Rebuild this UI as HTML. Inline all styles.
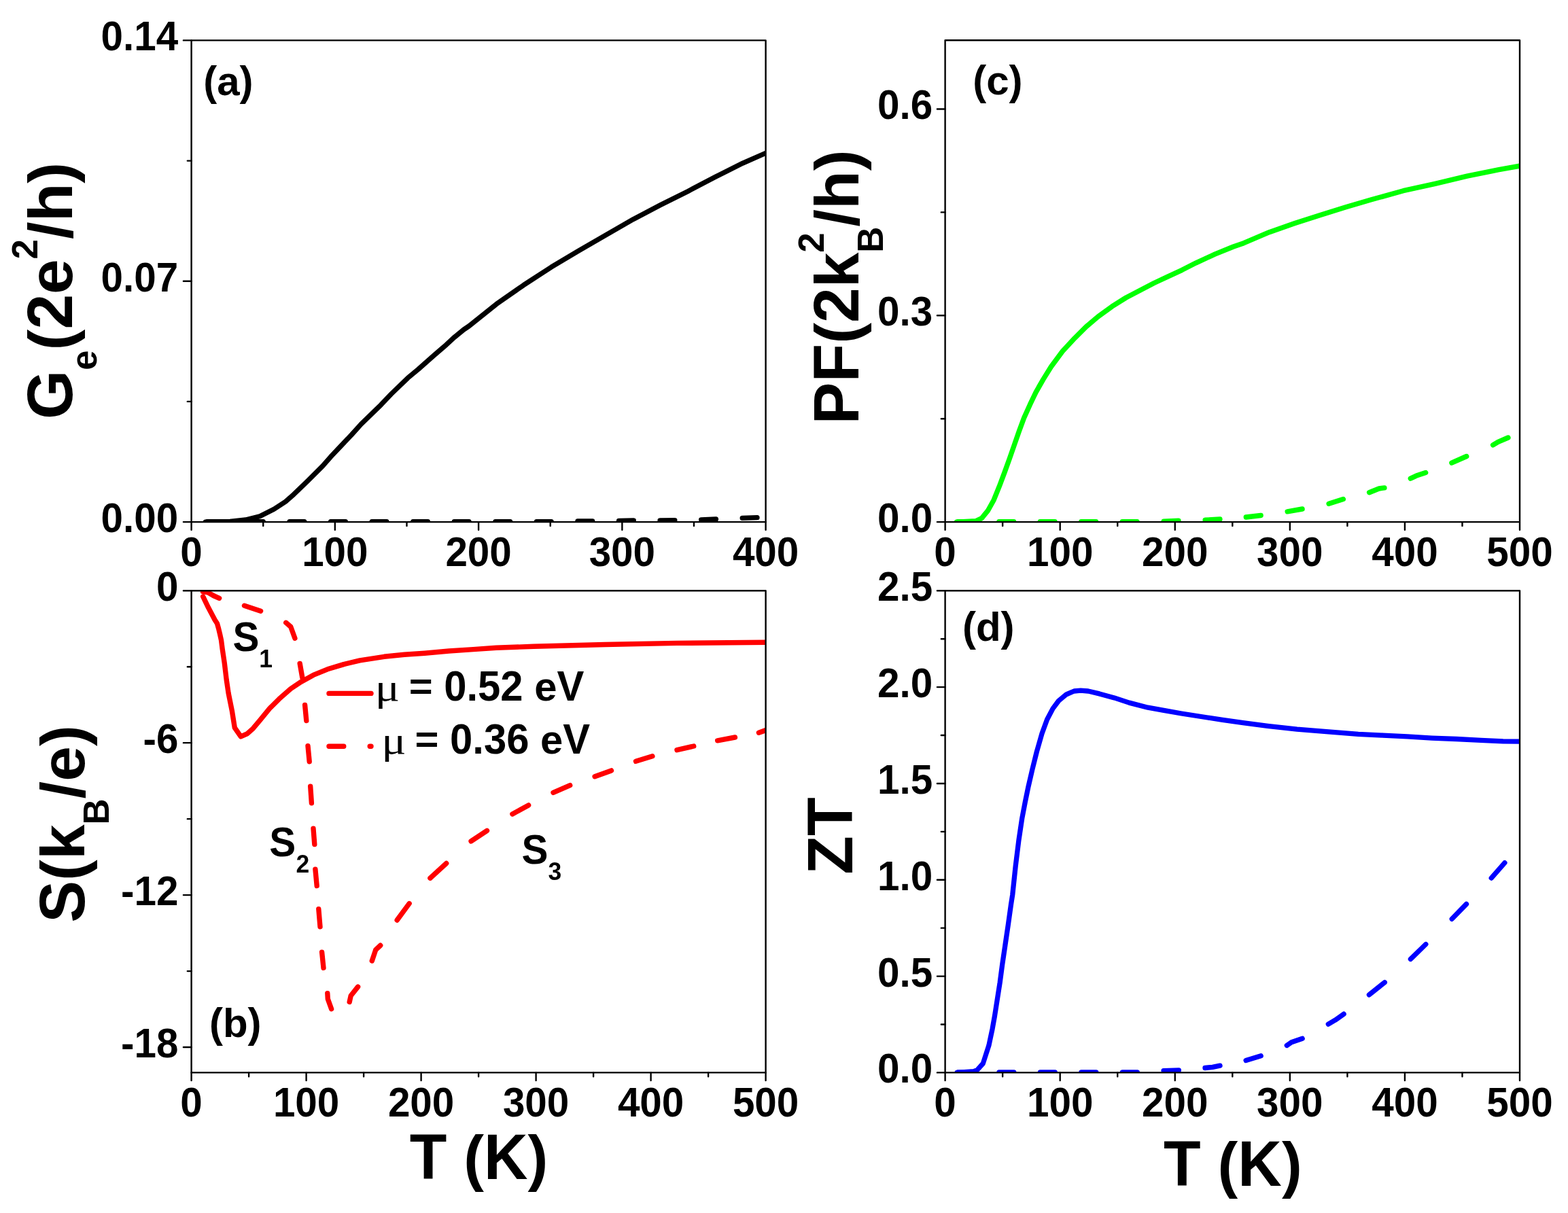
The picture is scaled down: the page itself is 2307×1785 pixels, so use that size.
<!DOCTYPE html>
<html><head><meta charset="utf-8"><title>Thermoelectric figure</title><style>html,body{margin:0;padding:0;background:#fff;overflow:hidden}svg{display:block}</style></head><body>
<svg width="2307" height="1785" viewBox="0 0 2307 1785">
<rect width="2307" height="1785" fill="#fff"/>
<defs><clipPath id="ca"><rect x="281.6" y="59.4" width="845" height="708.7"/></clipPath><clipPath id="cb"><rect x="281.6" y="869.2" width="845" height="709.2"/></clipPath><clipPath id="cc"><rect x="1390.6" y="59.2" width="845.4" height="708.9"/></clipPath><clipPath id="cd"><rect x="1390.6" y="869.3" width="845.4" height="709.1"/></clipPath></defs>
<g clip-path="url(#ca)">
<path d="M304.9 767.6 L326.7 767.6M365.46 767.6 L387.26 767.6M426.02 767.6 L447.82 767.6M486.58 767.6 L508.38 767.6M547.14 767.6 L568.94 767.6M607.7 767.6 L629.5 767.6M668.26 767.6 L690.06 767.6M728.82 767.6 L750.62 767.6M789.38 767.6 L811.18 767.6M849.94 767 L871.74 766.8M910.5 766.3 L932.3 766M971.06 765.9 L992.86 765.6M1031.62 764.9 L1053.42 764M1092.18 762.4 L1113.98 761.7" fill="none" stroke="#000" stroke-width="7.3" stroke-linecap="round" stroke-linejoin="round"/>
<path d="M302.3 768.1 L338.4 767.4 L361.4 765 L382.3 759.7 L403.1 749.2 L420 738.2 L430 729.6 L452.3 708.2 L474.6 685.9 L486.7 672.1 L517.5 639.5 L531.3 624.1 L560.4 595.8 L575.9 579.5 L599.9 556.3 L615.3 543.5 L637.6 523.7 L656.5 507.4 L668.5 496.3 L682.2 485.1 L690 479.9 L730.3 447.6 L770.6 419.4 L810.9 393.2 L851.2 369.1 L891.4 345.9 L931.7 322.7 L972 301.6 L1012.3 281.4 L1052.6 260.3 L1092.9 240.1 L1126.6 225.3" fill="none" stroke="#000" stroke-width="7.3" stroke-linecap="round" stroke-linejoin="round" />
</g>
<g clip-path="url(#cb)">
<path d="M298.7 877.8 L306.5 894.1 L316 912.1 L319.5 917.5 L321.6 925 L323.6 933.4 L325.5 942 L327.2 955.2 L330.2 975.3 L333.2 1000.4 L336.2 1020.6 L341.3 1045.7 L345.3 1070.9 L354.3 1083.9 L363.4 1079.9 L372.4 1071.9 L382.5 1059.8 L396.6 1042.7 L410.7 1028.6 L427.8 1013.5 L442.9 1003.4 L461 993.4 L481.9 984.8 L505.7 977.6 L529.5 971.9 L565.2 966.3 L595 963.3 L624.8 961.2 L660.5 958 L696.2 955.6 L730 953.2 L785 951.3 L890 948.5 L996 946.4 L1126.6 945.3" fill="none" stroke="#f00" stroke-width="7.4" stroke-linecap="round" stroke-linejoin="round" />
<path d="M298.5 870.5 L306 871.8 L314 876.5 L322.6 880.3M359.5 891.2 L383.6 899.2M420.8 916.3 L427.8 922.4 L433.9 939.3M441.2 976.5 L444.9 997.5M448.6 1037.4 L450.8 1060.5M453 1097.7 L455.2 1120.7M456.7 1157.3 L458.4 1181.7M461 1219.3 L462.8 1242.5M463.9 1279.2 L466.2 1303.6M468.8 1337.7 L471 1363.7M473.6 1401.1 L476 1424.3M481.8 1461.6 L482.3 1469.9 L487.6 1484.8M514.2 1474.4 L516.2 1465.3 L526.6 1452.1M547.3 1414 L552.7 1397.8 L559.7 1391.2M584.2 1354 L602.1 1329.6M632.9 1292.2 L656.7 1270.4M693.1 1237.9 L716.5 1222.3M753.9 1197.9 L777.6 1184.9M814 1166.4 L838.7 1155.7M875.1 1142.7 L899.5 1133.9M935.5 1120.3 L959.9 1112.8M996 1103.7 L1020.7 1098M1055.7 1089.8 L1081.4 1085M1116.4 1078.3 L1126.6 1074.6" fill="none" stroke="#f00" stroke-width="7.4" stroke-linecap="round" stroke-linejoin="round"/>
</g>
<g clip-path="url(#cc)">
<path d="M1409.4 767.8 L1431.2 767.8M1469.85 767.8 L1491.65 767.8M1530.3 767.8 L1552.1 767.8M1590.75 767.8 L1612.55 767.8M1651.2 767.8 L1673 767.8M1712.2 767.2 L1734 766.2M1773.1 765.3 L1794.9 764M1833.3 761 L1855.1 758.5M1894.2 752.8 L1916 749M1955.1 741.3 L1976.3 734.5M2014.6 724.7 L2028.9 719 L2036.9 717.9M2075.3 704.1 L2083.9 700.1 L2097.6 695.5M2135.9 681.2 L2157.7 671.5M2196.6 654.9 L2204.1 650.3 L2218.9 644" fill="none" stroke="#0f0" stroke-width="7.4" stroke-linecap="round" stroke-linejoin="round"/>
<path d="M1407.5 768.1 L1435.5 766.8 L1444.4 762.6 L1453.3 751.7 L1462.2 735.7 L1470.1 716.2 L1478.1 694.9 L1485.2 675.3 L1492.3 654.9 L1499.4 634.5 L1506.6 615 L1515.4 595.4 L1524.3 576.8 L1535 558.1 L1546.4 539.8 L1563.4 516.8 L1581.2 497.6 L1597.7 481.1 L1615.5 466 L1636.2 450.9 L1656.8 438 L1677.4 427.2 L1698 416.5 L1718.6 406.9 L1739.2 397.3 L1759.8 386.8 L1787.3 374.2 L1814.7 363 L1830 357.7 L1867.5 341.7 L1905.1 328.6 L1942.6 316.4 L1980.2 304.7 L2017.7 293.8 L2064.7 280.7 L2111.6 270.4 L2158.5 259.1 L2205.4 249.7 L2236 244.2" fill="none" stroke="#0f0" stroke-width="7.4" stroke-linecap="round" stroke-linejoin="round" />
</g>
<g clip-path="url(#cd)">
<path d="M1409.4 1578 L1431.3 1578M1469.9 1578 L1491.8 1578M1530.4 1578 L1552.3 1578M1590.9 1578 L1612.8 1578M1651.4 1578 L1673.3 1578M1712 1575.7 L1734.4 1574.8M1773 1571.5 L1784 1570.3 L1795 1568.1M1833.1 1560.4 L1855.2 1553.7M1893.3 1538.4 L1900.1 1533.7 L1916.2 1528.3M1954.3 1507.1 L1964.4 1501.2 L1977.1 1492.2M2014.4 1463.9 L2037.3 1445.6M2075.4 1411.4 L2097.8 1389.5M2136.2 1352.3 L2157.5 1330.4M2194.2 1292.1 L2213.9 1269.7" fill="none" stroke="#00f" stroke-width="7.3" stroke-linecap="round" stroke-linejoin="round"/>
<path d="M1408.1 1578.4 L1432.6 1576.6 L1437.7 1574.6 L1446.3 1565 L1454.9 1538.4 L1460 1514.4 L1463.4 1495.5 L1466.9 1473.2 L1471.2 1445.8 L1474.6 1420.1 L1478.9 1390.9 L1483.2 1361.7 L1487.5 1330.9 L1489.7 1317 L1494.2 1274.5 L1498.9 1236.6 L1503.7 1204.4 L1508.4 1179.8 L1513.1 1157.1 L1518.8 1132.5 L1525.4 1106 L1533 1079.5 L1540.6 1058.7 L1549.1 1042.6 L1557.6 1031.2 L1569 1021.8 L1580.3 1017 L1590 1016.2 L1601 1017 L1617.5 1020.9 L1639.5 1026.9 L1661.4 1034.1 L1688.9 1041.2 L1710.9 1045.1 L1738.4 1050 L1776.8 1056 L1798.8 1059.3 L1828.9 1063.7 L1865 1068.4 L1908.3 1073.1 L1951.6 1076.7 L1998.5 1080.3 L2034.6 1082.1 L2070.7 1083.9 L2106.8 1086.1 L2142.8 1087.5 L2178.9 1089.3 L2211.4 1090.8 L2236 1091.2" fill="none" stroke="#00f" stroke-width="7.3" stroke-linecap="round" stroke-linejoin="round" />
</g>
<rect x="281.6" y="59.4" width="845" height="708.7" fill="none" stroke="#000" stroke-width="2.4" stroke-linejoin="round"/>
<path d="M281.6 768.1V779.8M492.85 768.1V779.8M704.1 768.1V779.8M915.35 768.1V779.8M1126.6 768.1V779.8M387.23 768.1V773.9M598.47 768.1V773.9M809.72 768.1V773.9M1020.97 768.1V773.9M281.6 768.1H269.9M281.6 413.75H269.9M281.6 59.4H269.9M281.6 590.92H275.8M281.6 236.58H275.8" stroke="#000" stroke-width="2.4" stroke-linecap="round" fill="none"/>
<text transform="translate(265.36,832.7) scale(1.0,1.055)" font-family="'Liberation Sans', Arial, sans-serif" font-weight="bold" font-size="58.4">0</text>
<text transform="translate(444.13,832.7) scale(1.0,1.055)" font-family="'Liberation Sans', Arial, sans-serif" font-weight="bold" font-size="58.4">100</text>
<text transform="translate(655.38,832.7) scale(1.0,1.055)" font-family="'Liberation Sans', Arial, sans-serif" font-weight="bold" font-size="58.4">200</text>
<text transform="translate(866.63,832.7) scale(1.0,1.055)" font-family="'Liberation Sans', Arial, sans-serif" font-weight="bold" font-size="58.4">300</text>
<text transform="translate(1077.88,832.7) scale(1.0,1.055)" font-family="'Liberation Sans', Arial, sans-serif" font-weight="bold" font-size="58.4">400</text>
<text transform="translate(148.54,783.1) scale(1.0,1.055)" font-family="'Liberation Sans', Arial, sans-serif" font-weight="bold" font-size="58.4">0.00</text>
<text transform="translate(148.54,428.75) scale(1.0,1.055)" font-family="'Liberation Sans', Arial, sans-serif" font-weight="bold" font-size="58.4">0.07</text>
<text transform="translate(148.54,74.4) scale(1.0,1.055)" font-family="'Liberation Sans', Arial, sans-serif" font-weight="bold" font-size="58.4">0.14</text>
<rect x="281.6" y="869.2" width="845" height="709.2" fill="none" stroke="#000" stroke-width="2.4" stroke-linejoin="round"/>
<path d="M281.6 1578.4V1590.1M450.6 1578.4V1590.1M619.6 1578.4V1590.1M788.6 1578.4V1590.1M957.6 1578.4V1590.1M1126.6 1578.4V1590.1M366.1 1578.4V1584.2M535.1 1578.4V1584.2M704.1 1578.4V1584.2M873.1 1578.4V1584.2M1042.1 1578.4V1584.2M281.6 869.2H269.9M281.6 1093.16H269.9M281.6 1317.12H269.9M281.6 1541.07H269.9M281.6 981.18H275.8M281.6 1205.14H275.8M281.6 1429.09H275.8" stroke="#000" stroke-width="2.4" stroke-linecap="round" fill="none"/>
<text transform="translate(265.36,1643) scale(1.0,1.055)" font-family="'Liberation Sans', Arial, sans-serif" font-weight="bold" font-size="58.4">0</text>
<text transform="translate(401.88,1643) scale(1.0,1.055)" font-family="'Liberation Sans', Arial, sans-serif" font-weight="bold" font-size="58.4">100</text>
<text transform="translate(570.88,1643) scale(1.0,1.055)" font-family="'Liberation Sans', Arial, sans-serif" font-weight="bold" font-size="58.4">200</text>
<text transform="translate(739.88,1643) scale(1.0,1.055)" font-family="'Liberation Sans', Arial, sans-serif" font-weight="bold" font-size="58.4">300</text>
<text transform="translate(908.88,1643) scale(1.0,1.055)" font-family="'Liberation Sans', Arial, sans-serif" font-weight="bold" font-size="58.4">400</text>
<text transform="translate(1077.88,1643) scale(1.0,1.055)" font-family="'Liberation Sans', Arial, sans-serif" font-weight="bold" font-size="58.4">500</text>
<text transform="translate(229.92,884.2) scale(1.0,1.055)" font-family="'Liberation Sans', Arial, sans-serif" font-weight="bold" font-size="58.4">0</text>
<text transform="translate(210.47,1108.16) scale(1.0,1.055)" font-family="'Liberation Sans', Arial, sans-serif" font-weight="bold" font-size="58.4">-6</text>
<text transform="translate(177.99,1332.12) scale(1.0,1.055)" font-family="'Liberation Sans', Arial, sans-serif" font-weight="bold" font-size="58.4">-12</text>
<text transform="translate(177.99,1556.07) scale(1.0,1.055)" font-family="'Liberation Sans', Arial, sans-serif" font-weight="bold" font-size="58.4">-18</text>
<rect x="1390.6" y="59.2" width="845.4" height="708.9" fill="none" stroke="#000" stroke-width="2.4" stroke-linejoin="round"/>
<path d="M1390.6 768.1V779.8M1559.68 768.1V779.8M1728.76 768.1V779.8M1897.84 768.1V779.8M2066.92 768.1V779.8M2236 768.1V779.8M1475.14 768.1V773.9M1644.22 768.1V773.9M1813.3 768.1V773.9M1982.38 768.1V773.9M2151.46 768.1V773.9M1390.6 768.1H1378.9M1390.6 464.29H1378.9M1390.6 160.47H1378.9M1390.6 616.19H1384.8M1390.6 312.38H1384.8" stroke="#000" stroke-width="2.4" stroke-linecap="round" fill="none"/>
<text transform="translate(1374.36,832.7) scale(1.0,1.055)" font-family="'Liberation Sans', Arial, sans-serif" font-weight="bold" font-size="58.4">0</text>
<text transform="translate(1510.96,832.7) scale(1.0,1.055)" font-family="'Liberation Sans', Arial, sans-serif" font-weight="bold" font-size="58.4">100</text>
<text transform="translate(1680.04,832.7) scale(1.0,1.055)" font-family="'Liberation Sans', Arial, sans-serif" font-weight="bold" font-size="58.4">200</text>
<text transform="translate(1849.12,832.7) scale(1.0,1.055)" font-family="'Liberation Sans', Arial, sans-serif" font-weight="bold" font-size="58.4">300</text>
<text transform="translate(2018.2,832.7) scale(1.0,1.055)" font-family="'Liberation Sans', Arial, sans-serif" font-weight="bold" font-size="58.4">400</text>
<text transform="translate(2187.28,832.7) scale(1.0,1.055)" font-family="'Liberation Sans', Arial, sans-serif" font-weight="bold" font-size="58.4">500</text>
<text transform="translate(1291.12,783.1) scale(1.0,1.055)" font-family="'Liberation Sans', Arial, sans-serif" font-weight="bold" font-size="58.4">0.0</text>
<text transform="translate(1291.12,479.29) scale(1.0,1.055)" font-family="'Liberation Sans', Arial, sans-serif" font-weight="bold" font-size="58.4">0.3</text>
<text transform="translate(1291.12,175.47) scale(1.0,1.055)" font-family="'Liberation Sans', Arial, sans-serif" font-weight="bold" font-size="58.4">0.6</text>
<rect x="1390.6" y="869.3" width="845.4" height="709.1" fill="none" stroke="#000" stroke-width="2.4" stroke-linejoin="round"/>
<path d="M1390.6 1578.4V1590.1M1559.68 1578.4V1590.1M1728.76 1578.4V1590.1M1897.84 1578.4V1590.1M2066.92 1578.4V1590.1M2236 1578.4V1590.1M1475.14 1578.4V1584.2M1644.22 1578.4V1584.2M1813.3 1578.4V1584.2M1982.38 1578.4V1584.2M2151.46 1578.4V1584.2M1390.6 1578.4H1378.9M1390.6 1436.58H1378.9M1390.6 1294.76H1378.9M1390.6 1152.94H1378.9M1390.6 1011.12H1378.9M1390.6 869.3H1378.9M1390.6 1507.49H1384.8M1390.6 1365.67H1384.8M1390.6 1223.85H1384.8M1390.6 1082.03H1384.8M1390.6 940.21H1384.8" stroke="#000" stroke-width="2.4" stroke-linecap="round" fill="none"/>
<text transform="translate(1374.36,1643) scale(1.0,1.055)" font-family="'Liberation Sans', Arial, sans-serif" font-weight="bold" font-size="58.4">0</text>
<text transform="translate(1510.96,1643) scale(1.0,1.055)" font-family="'Liberation Sans', Arial, sans-serif" font-weight="bold" font-size="58.4">100</text>
<text transform="translate(1680.04,1643) scale(1.0,1.055)" font-family="'Liberation Sans', Arial, sans-serif" font-weight="bold" font-size="58.4">200</text>
<text transform="translate(1849.12,1643) scale(1.0,1.055)" font-family="'Liberation Sans', Arial, sans-serif" font-weight="bold" font-size="58.4">300</text>
<text transform="translate(2018.2,1643) scale(1.0,1.055)" font-family="'Liberation Sans', Arial, sans-serif" font-weight="bold" font-size="58.4">400</text>
<text transform="translate(2187.28,1643) scale(1.0,1.055)" font-family="'Liberation Sans', Arial, sans-serif" font-weight="bold" font-size="58.4">500</text>
<text transform="translate(1291.12,1593.4) scale(1.0,1.055)" font-family="'Liberation Sans', Arial, sans-serif" font-weight="bold" font-size="58.4">0.0</text>
<text transform="translate(1291.12,1451.58) scale(1.0,1.055)" font-family="'Liberation Sans', Arial, sans-serif" font-weight="bold" font-size="58.4">0.5</text>
<text transform="translate(1291.12,1309.76) scale(1.0,1.055)" font-family="'Liberation Sans', Arial, sans-serif" font-weight="bold" font-size="58.4">1.0</text>
<text transform="translate(1291.12,1167.94) scale(1.0,1.055)" font-family="'Liberation Sans', Arial, sans-serif" font-weight="bold" font-size="58.4">1.5</text>
<text transform="translate(1291.12,1026.12) scale(1.0,1.055)" font-family="'Liberation Sans', Arial, sans-serif" font-weight="bold" font-size="58.4">2.0</text>
<text transform="translate(1291.12,884.3) scale(1.0,1.055)" font-family="'Liberation Sans', Arial, sans-serif" font-weight="bold" font-size="58.4">2.5</text>
<text transform="translate(299.21,139.5) scale(1.0,1.01)" font-family="'Liberation Sans', Arial, sans-serif" font-weight="bold" font-size="60">(</text>
<text transform="translate(319.19,139.5) scale(1.0,1.0)" font-family="'Liberation Sans', Arial, sans-serif" font-weight="bold" font-size="60">a</text>
<text transform="translate(352.56,139.5) scale(1.0,1.01)" font-family="'Liberation Sans', Arial, sans-serif" font-weight="bold" font-size="60">)</text>
<text transform="translate(307.91,1525.7) scale(1.0,1.01)" font-family="'Liberation Sans', Arial, sans-serif" font-weight="bold" font-size="60">(</text>
<text transform="translate(327.89,1525.7) scale(1.0,1.0)" font-family="'Liberation Sans', Arial, sans-serif" font-weight="bold" font-size="60">b</text>
<text transform="translate(364.54,1525.7) scale(1.0,1.01)" font-family="'Liberation Sans', Arial, sans-serif" font-weight="bold" font-size="60">)</text>
<text transform="translate(1431.21,139) scale(1.0,1.01)" font-family="'Liberation Sans', Arial, sans-serif" font-weight="bold" font-size="60">(</text>
<text transform="translate(1451.19,139) scale(1.0,1.0)" font-family="'Liberation Sans', Arial, sans-serif" font-weight="bold" font-size="60">c</text>
<text transform="translate(1484.56,139) scale(1.0,1.01)" font-family="'Liberation Sans', Arial, sans-serif" font-weight="bold" font-size="60">)</text>
<text transform="translate(1415.91,942.8) scale(1.0,1.01)" font-family="'Liberation Sans', Arial, sans-serif" font-weight="bold" font-size="60">(</text>
<text transform="translate(1435.89,942.8) scale(1.0,1.0)" font-family="'Liberation Sans', Arial, sans-serif" font-weight="bold" font-size="60">d</text>
<text transform="translate(1472.54,942.8) scale(1.0,1.01)" font-family="'Liberation Sans', Arial, sans-serif" font-weight="bold" font-size="60">)</text>
<text transform="translate(342.42,957.8) scale(1.0,1.055)" font-family="'Liberation Sans', Arial, sans-serif" font-weight="bold" font-size="58.4">S</text>
<text transform="translate(381.26,981.7) scale(1.0,1.055)" font-family="'Liberation Sans', Arial, sans-serif" font-weight="bold" font-size="35.5">1</text>
<text transform="translate(396.32,1259.6) scale(1.0,1.055)" font-family="'Liberation Sans', Arial, sans-serif" font-weight="bold" font-size="58.4">S</text>
<text transform="translate(435.57,1283.8) scale(1.0,1.055)" font-family="'Liberation Sans', Arial, sans-serif" font-weight="bold" font-size="35.5">2</text>
<text transform="translate(767.52,1270.7) scale(1.0,1.055)" font-family="'Liberation Sans', Arial, sans-serif" font-weight="bold" font-size="58.4">S</text>
<text transform="translate(806.49,1294.7) scale(1.0,1.055)" font-family="'Liberation Sans', Arial, sans-serif" font-weight="bold" font-size="35.5">3</text>
<path d="M484 1020.4 L546 1020.4" fill="none" stroke="#f00" stroke-width="7.4" stroke-linecap="round" stroke-linejoin="round" />
<path d="M484 1098.3 L505.8 1098.3M544.2 1098.3 L546 1098.3" fill="none" stroke="#f00" stroke-width="7.4" stroke-linecap="round" stroke-linejoin="round"/>
<text transform="translate(551.8,1030.9) scale(1.13,0.953)" font-family="'Liberation Serif', 'Times New Roman', serif" font-size="60">&#956;</text>
<text transform="translate(601.72,1028.81) scale(1.0,0.93)" font-family="'Liberation Sans', Arial, sans-serif" font-weight="bold" font-size="59.8">= </text>
<text transform="translate(653.25,1030.9) scale(1.0,1.055)" font-family="'Liberation Sans', Arial, sans-serif" font-weight="bold" font-size="59.8">0.52 </text>
<text transform="translate(786.26,1030.9) scale(1.0,1.0)" font-family="'Liberation Sans', Arial, sans-serif" font-weight="bold" font-size="59.8">e</text>
<text transform="translate(819.52,1030.9) scale(1.0,1.055)" font-family="'Liberation Sans', Arial, sans-serif" font-weight="bold" font-size="59.8">V</text>
<text transform="translate(561.2,1108.8) scale(1.13,0.953)" font-family="'Liberation Serif', 'Times New Roman', serif" font-size="60">&#956;</text>
<text transform="translate(610.52,1106.71) scale(1.0,0.93)" font-family="'Liberation Sans', Arial, sans-serif" font-weight="bold" font-size="59.8">= </text>
<text transform="translate(662.05,1108.8) scale(1.0,1.055)" font-family="'Liberation Sans', Arial, sans-serif" font-weight="bold" font-size="59.8">0.36 </text>
<text transform="translate(795.06,1108.8) scale(1.0,1.0)" font-family="'Liberation Sans', Arial, sans-serif" font-weight="bold" font-size="59.8">e</text>
<text transform="translate(828.32,1108.8) scale(1.0,1.055)" font-family="'Liberation Sans', Arial, sans-serif" font-weight="bold" font-size="59.8">V</text>
<text transform="translate(602.8,1735.4) scale(1.0,1.055)" font-family="'Liberation Sans', Arial, sans-serif" font-weight="bold" font-size="89.4">T </text>
<text transform="translate(682.24,1735.4) scale(1.0,1.01)" font-family="'Liberation Sans', Arial, sans-serif" font-weight="bold" font-size="89.4">(</text>
<text transform="translate(712.01,1735.4) scale(1.0,1.055)" font-family="'Liberation Sans', Arial, sans-serif" font-weight="bold" font-size="89.4">K</text>
<text transform="translate(776.58,1735.4) scale(1.0,1.01)" font-family="'Liberation Sans', Arial, sans-serif" font-weight="bold" font-size="89.4">)</text>
<text transform="translate(1712.1,1745.4) scale(1.0,1.055)" font-family="'Liberation Sans', Arial, sans-serif" font-weight="bold" font-size="89.4">T </text>
<text transform="translate(1791.54,1745.4) scale(1.0,1.01)" font-family="'Liberation Sans', Arial, sans-serif" font-weight="bold" font-size="89.4">(</text>
<text transform="translate(1821.31,1745.4) scale(1.0,1.055)" font-family="'Liberation Sans', Arial, sans-serif" font-weight="bold" font-size="89.4">K</text>
<text transform="translate(1885.88,1745.4) scale(1.0,1.01)" font-family="'Liberation Sans', Arial, sans-serif" font-weight="bold" font-size="89.4">)</text>
<text transform="translate(106.3,617.01) rotate(-90) scale(1.014,1.04)" font-family="'Liberation Sans', Arial, sans-serif" font-weight="bold" font-size="91.5">G</text>
<text transform="translate(142,544.84) rotate(-90) scale(1.014,0.985)" font-family="'Liberation Sans', Arial, sans-serif" font-weight="bold" font-size="52">e</text>
<text transform="translate(106.3,515.51) rotate(-90) scale(1.014,0.993)" font-family="'Liberation Sans', Arial, sans-serif" font-weight="bold" font-size="91.5">(</text>
<text transform="translate(106.3,484.62) rotate(-90) scale(1.014,1.04)" font-family="'Liberation Sans', Arial, sans-serif" font-weight="bold" font-size="91.5">2</text>
<text transform="translate(106.3,433.02) rotate(-90) scale(1.014,0.985)" font-family="'Liberation Sans', Arial, sans-serif" font-weight="bold" font-size="91.5">e</text>
<text transform="translate(55,381.42) rotate(-90) scale(1.014,1.04)" font-family="'Liberation Sans', Arial, sans-serif" font-weight="bold" font-size="52">2</text>
<text transform="translate(106.3,352.09) rotate(-90) scale(1.014,1.0)" font-family="'Liberation Sans', Arial, sans-serif" font-weight="bold" font-size="91.5">/</text>
<text transform="translate(106.3,326.31) rotate(-90) scale(1.014,0.985)" font-family="'Liberation Sans', Arial, sans-serif" font-weight="bold" font-size="91.5">h</text>
<text transform="translate(106.3,269.64) rotate(-90) scale(1.014,0.993)" font-family="'Liberation Sans', Arial, sans-serif" font-weight="bold" font-size="91.5">)</text>
<text transform="translate(123.6,1357.87) rotate(-90) scale(1.014,1.04)" font-family="'Liberation Sans', Arial, sans-serif" font-weight="bold" font-size="91.5">S</text>
<text transform="translate(123.6,1295.99) rotate(-90) scale(1.014,0.993)" font-family="'Liberation Sans', Arial, sans-serif" font-weight="bold" font-size="91.5">(</text>
<text transform="translate(123.6,1265.09) rotate(-90) scale(1.014,0.985)" font-family="'Liberation Sans', Arial, sans-serif" font-weight="bold" font-size="91.5">k</text>
<text transform="translate(160.1,1213.49) rotate(-90) scale(1.014,1.04)" font-family="'Liberation Sans', Arial, sans-serif" font-weight="bold" font-size="52">B</text>
<text transform="translate(123.6,1175.41) rotate(-90) scale(1.014,1.0)" font-family="'Liberation Sans', Arial, sans-serif" font-weight="bold" font-size="91.5">/</text>
<text transform="translate(123.6,1149.64) rotate(-90) scale(1.014,0.985)" font-family="'Liberation Sans', Arial, sans-serif" font-weight="bold" font-size="91.5">e</text>
<text transform="translate(123.6,1098.04) rotate(-90) scale(1.014,0.993)" font-family="'Liberation Sans', Arial, sans-serif" font-weight="bold" font-size="91.5">)</text>
<text transform="translate(1263.3,624.41) rotate(-90) scale(1.014,1.04)" font-family="'Liberation Sans', Arial, sans-serif" font-weight="bold" font-size="91.5">PF</text>
<text transform="translate(1263.3,505.85) rotate(-90) scale(1.014,0.993)" font-family="'Liberation Sans', Arial, sans-serif" font-weight="bold" font-size="91.5">(</text>
<text transform="translate(1263.3,474.95) rotate(-90) scale(1.014,1.04)" font-family="'Liberation Sans', Arial, sans-serif" font-weight="bold" font-size="91.5">2</text>
<text transform="translate(1263.3,423.35) rotate(-90) scale(1.014,0.985)" font-family="'Liberation Sans', Arial, sans-serif" font-weight="bold" font-size="91.5">k</text>
<text transform="translate(1211.7,371.75) rotate(-90) scale(1.014,1.04)" font-family="'Liberation Sans', Arial, sans-serif" font-weight="bold" font-size="52">2</text>
<text transform="translate(1299,371.75) rotate(-90) scale(1.014,1.04)" font-family="'Liberation Sans', Arial, sans-serif" font-weight="bold" font-size="52">B</text>
<text transform="translate(1263.3,333.67) rotate(-90) scale(1.014,1.0)" font-family="'Liberation Sans', Arial, sans-serif" font-weight="bold" font-size="91.5">/</text>
<text transform="translate(1263.3,307.89) rotate(-90) scale(1.014,0.985)" font-family="'Liberation Sans', Arial, sans-serif" font-weight="bold" font-size="91.5">h</text>
<text transform="translate(1263.3,251.22) rotate(-90) scale(1.014,0.993)" font-family="'Liberation Sans', Arial, sans-serif" font-weight="bold" font-size="91.5">)</text>
<text transform="translate(1254,1286.76) rotate(-90) scale(1.014,1.04)" font-family="'Liberation Sans', Arial, sans-serif" font-weight="bold" font-size="91.5">ZT</text>
</svg>
</body></html>
